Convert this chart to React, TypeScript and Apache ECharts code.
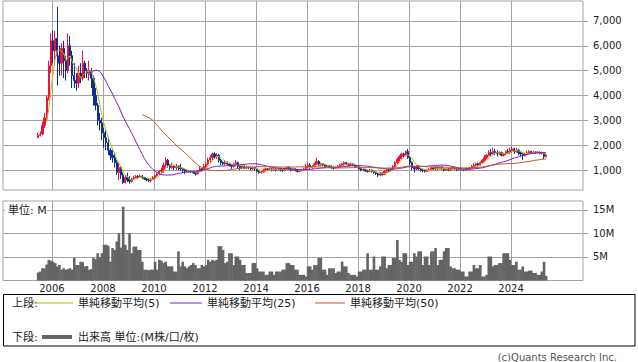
import React, { useEffect, useRef } from "react";
import * as echarts from "echarts";

// First candle month (June 2005), monthly candles
const START_YEAR = 2005;
const START_MONTH = 6;

// Monthly candles: [open, close, low, high]
const ohlc2005 = [[2300,2400,2300,2500],[2400,2450,2350,2550],[2450,2800,2400,2950],[2800,3100,2700,3300],[3100,3900,3000,4000],[3900,5200,3800,5400],[5200,6200,4900,6500]];
const ohlc2006 = [[6200,5800,5300,6600],[5800,6300,5200,6600],[6300,5600,4400,7560],[5600,5300,4800,6000],[5300,5900,4800,6100],[5900,5400,4700,6200],[5400,5000,4600,5600],[5000,6000,4900,6500],[6000,5600,5200,6400],[5600,4800,4300,5800],[4800,4600,4300,5300],[4600,4500,4200,4900]];
const ohlc2007 = [[4500,4900,4300,5200],[4900,4700,4500,5300],[4700,5300,4600,5800],[5300,5000,4700,5400],[5000,4900,4700,5100],[4900,5000,4600,5400],[5000,4700,4300,5100],[4700,4000,3600,4800],[4000,3600,3400,4300],[3600,3000,2800,3700],[3000,2900,2600,3300],[2900,2500,2200,3100]];
const ohlc2008 = [[2500,2300,1900,2700],[2300,2100,1800,2600],[2100,1800,1600,2300],[1800,1600,1400,1900],[1600,1500,1300,1800],[1500,1300,1100,1700],[1300,900,800,1400],[900,1100,600,1300],[1100,800,650,1150],[800,500,440,900],[500,700,460,800],[700,600,520,900]];
const ohlc2009 = [[600,550,450,750],[550,650,500,700],[650,700,600,780],[700,750,650,800],[750,720,650,800],[720,760,680,820],[760,700,650,800],[700,650,600,720],[650,600,550,680],[600,580,520,650],[580,620,500,680],[620,700,600,760]];
const ohlc2010 = [[700,780,650,820],[780,850,740,900],[850,950,820,1000],[950,1000,880,1100],[1000,1200,900,1300],[1200,1400,1100,1520],[1400,1200,1100,1450],[1200,1100,1000,1250],[1100,1150,1050,1300],[1150,1100,1000,1200],[1100,1150,1000,1250],[1150,1100,1000,1200]];
const ohlc2011 = [[1100,1050,980,1250],[1050,1000,880,1100],[1000,950,850,1050],[950,980,900,1020],[980,950,900,1000],[950,930,880,980],[930,900,850,950],[900,850,780,920],[850,950,820,1000],[950,1050,920,1150],[1050,1000,930,1100],[1000,1150,980,1250]];
const ohlc2012 = [[1150,1250,1100,1300],[1250,1400,1200,1500],[1400,1500,1300,1600],[1500,1650,1400,1700],[1650,1550,1450,1720],[1550,1600,1450,1680],[1600,1400,1300,1650],[1400,1300,1200,1450],[1300,1250,1200,1350],[1250,1300,1200,1400],[1300,1250,1180,1350],[1250,1200,1150,1300]];
const ohlc2013 = [[1200,1150,1050,1250],[1150,1250,1100,1300],[1250,1300,1150,1400],[1300,1150,1050,1350],[1150,1100,1000,1200],[1100,1150,1050,1200],[1150,1100,1050,1200],[1100,1120,1050,1180],[1120,1100,1040,1160],[1100,1050,1000,1150],[1050,1100,1000,1150],[1100,1050,980,1120]];
const ohlc2014 = [[1050,950,900,1080],[950,900,850,980],[900,920,860,960],[920,1000,900,1050],[1000,1050,960,1100],[1050,1020,980,1080],[1020,1050,1000,1100],[1050,1000,950,1080],[1000,1050,980,1120],[1050,1000,940,1080],[1000,1050,980,1100],[1050,1000,950,1100]];
const ohlc2015 = [[1000,980,930,1050],[980,1050,960,1100],[1050,1100,1000,1150],[1100,1050,1000,1150],[1050,1000,950,1100],[1000,1050,980,1100],[1050,1000,950,1080],[1000,950,900,1050],[950,980,920,1020],[980,1000,950,1050],[1000,1050,980,1100],[1050,1150,1030,1250]];
const ohlc2016 = [[1150,1200,1050,1300],[1200,1100,1050,1280],[1100,1150,1050,1200],[1150,1250,1100,1300],[1250,1350,1200,1500],[1350,1200,1150,1400],[1200,1250,1150,1300],[1250,1200,1150,1280],[1200,1150,1100,1250],[1150,1180,1120,1220],[1180,1150,1100,1220],[1150,1100,1050,1200]];
const ohlc2017 = [[1100,1080,1020,1150],[1080,1100,1050,1150],[1100,1150,1080,1200],[1150,1200,1100,1250],[1200,1250,1150,1300],[1250,1300,1200,1350],[1300,1250,1200,1330],[1250,1200,1150,1280],[1200,1250,1150,1300],[1250,1200,1150,1280],[1200,1150,1100,1250],[1150,1150,1100,1200]];
const ohlc2018 = [[1150,1050,1000,1180],[1050,1000,950,1080],[1000,1020,950,1080],[1020,980,930,1050],[980,950,900,1020],[950,1000,920,1050],[1000,950,900,1030],[950,900,850,980],[900,850,800,950],[850,800,720,880],[800,880,760,920],[880,830,780,900]];
const ohlc2019 = [[830,950,800,1000],[950,1000,900,1050],[1000,980,920,1050],[980,1050,950,1100],[1050,1150,1000,1200],[1150,1300,1100,1350],[1300,1450,1250,1500],[1450,1550,1350,1600],[1550,1650,1450,1700],[1650,1600,1500,1700],[1600,1750,1550,1800],[1750,1500,1450,1850]];
const ohlc2020 = [[1500,1300,1200,1550],[1300,1100,1000,1350],[1100,1050,900,1150],[1050,1150,1000,1200],[1150,1050,1000,1200],[1050,1000,950,1100],[1000,980,920,1050],[980,950,900,1020],[950,1000,920,1050],[1000,1020,950,1080],[1020,1080,980,1120],[1080,1050,1000,1120]];
const ohlc2021 = [[1050,1100,1000,1150],[1100,1050,1000,1150],[1050,1100,1020,1150],[1100,1050,1000,1150],[1050,1000,950,1100],[1000,1050,980,1100],[1050,1000,960,1080],[1000,1050,980,1100],[1050,1100,1020,1150],[1100,1050,1000,1120],[1050,1000,960,1080],[1000,1050,980,1100]];
const ohlc2022 = [[1050,1020,980,1080],[1020,1000,960,1060],[1000,1050,970,1080],[1050,1030,1000,1080],[1030,1080,1000,1120],[1080,1150,1050,1200],[1150,1200,1100,1280],[1200,1250,1150,1300],[1250,1200,1150,1300],[1200,1300,1180,1350],[1300,1400,1280,1450],[1400,1500,1350,1600]];
const ohlc2023 = [[1500,1600,1450,1650],[1600,1700,1550,1800],[1700,1650,1550,1850],[1650,1750,1600,1900],[1750,1700,1600,1850],[1700,1650,1550,1800],[1650,1700,1600,1750],[1700,1600,1550,1750],[1600,1650,1550,1700],[1650,1750,1600,1800],[1750,1700,1650,1850],[1700,1800,1650,1900]];
const ohlc2024 = [[1800,1850,1700,1950],[1850,1750,1650,1900],[1750,1800,1700,1900],[1800,1700,1600,1850],[1700,1650,1550,1750],[1650,1600,1400,1700],[1600,1650,1550,1700],[1650,1700,1600,1780],[1700,1750,1650,1800],[1750,1700,1650,1780],[1700,1720,1650,1760],[1720,1700,1650,1750]];
const ohlc2025 = [[1700,1720,1660,1760],[1720,1680,1640,1750],[1680,1700,1620,1740],[1700,1550,1450,1720],[1550,1600,1500,1650]];

// Monthly volume, in millions of shares
const vol2005 = [1.7, 1.9, 2.6, 2.6, 3.4, 4.4, 4.2];
const vol2006 = [4.0, 3.7, 3.0, 3.3, 2.3, 2.6, 2.3, 2.4, 2.6, 2.3, 4.8, 3.3];
const vol2007 = [3.3, 4.0, 3.9, 3.0, 3.1, 2.3, 2.4, 4.8, 4.5, 5.8, 5.0, 5.8];
const vol2008 = [7.6, 7.6, 7.4, 4.0, 6.9, 6.5, 8.3, 10.0, 7.0, 15.7, 7.6, 6.5];
const vol2009 = [10.0, 5.8, 7.2, 7.2, 6.5, 6.5, 4.0, 2.3, 2.3, 2.2, 2.3, 2.3];
const vol2010 = [4.0, 2.3, 4.4, 4.2, 3.7, 4.0, 3.0, 3.0, 3.0, 1.9, 1.9, 6.2];
const vol2011 = [3.0, 4.0, 3.0, 2.6, 3.0, 3.3, 3.7, 3.3, 2.6, 2.6, 3.3, 3.0];
const vol2012 = [3.3, 4.4, 4.0, 4.4, 4.2, 4.4, 7.3, 7.3, 6.5, 3.7, 4.0, 5.8];
const vol2013 = [5.8, 3.3, 5.1, 5.1, 4.4, 3.3, 3.3, 1.6, 1.6, 1.6, 3.7, 3.7];
const vol2014 = [2.6, 1.9, 1.9, 1.9, 1.2, 1.2, 1.9, 1.9, 1.2, 1.9, 1.9, 1.9];
const vol2015 = [2.3, 2.3, 3.7, 3.7, 3.3, 3.3, 2.3, 2.3, 1.2, 1.2, 1.2, 0.85];
const vol2016 = [3.0, 3.0, 2.3, 3.3, 3.3, 4.8, 4.8, 2.3, 2.3, 1.2, 2.6, 2.6];
const vol2017 = [2.6, 1.6, 1.9, 1.9, 4.0, 3.0, 3.0, 1.6, 1.2, 1.2, 1.2, 0.85];
const vol2018 = [1.9, 1.9, 2.3, 2.3, 5.8, 2.3, 2.3, 5.1, 2.3, 2.3, 3.0, 5.1];
const vol2019 = [5.1, 2.6, 3.3, 3.3, 4.8, 4.8, 8.6, 4.4, 4.0, 5.8, 5.8, 3.3];
const vol2020 = [4.0, 4.0, 5.8, 5.1, 6.2, 6.2, 3.3, 5.1, 5.1, 3.3, 6.2, 6.2];
const vol2021 = [6.9, 3.3, 4.4, 4.4, 6.2, 6.9, 6.9, 3.0, 2.6, 2.6, 2.3, 2.3];
const vol2022 = [1.9, 1.9, 0.85, 0.85, 1.9, 1.9, 3.3, 2.6, 2.6, 3.3, 0.85, 0.85];
const vol2023 = [1.2, 5.1, 5.1, 3.0, 3.3, 3.3, 3.7, 3.7, 5.8, 5.8, 5.8, 4.4];
const vol2024 = [3.3, 3.3, 4.0, 2.3, 2.3, 3.0, 1.9, 1.9, 2.1, 2.1, 1.6, 1.6];
const vol2025 = [1.2, 1.2, 1.9, 4.0, 1.0];

const yearTicks = [2006, 2008, 2010, 2012, 2014, 2016, 2018, 2020, 2022, 2024];
const priceTicks = [1000, 2000, 3000, 4000, 5000, 6000, 7000];
const volumeTicks = [5, 10, 15];
const maPeriods = [5, 25, 50];
const maColors = ["#bcbc00", "#7a1ccc", "#cc5028"];
const maLabels = ["単純移動平均(5)", "単純移動平均(25)", "単純移動平均(50)"];

const FONT = "'DejaVu Sans', 'Noto Sans CJK JP', sans-serif";
const GRID_COLOR = "#a3a3a3";

const ohlc = [
  ...ohlc2005, ...ohlc2006, ...ohlc2007, ...ohlc2008, ...ohlc2009, ...ohlc2010,
  ...ohlc2011, ...ohlc2012, ...ohlc2013, ...ohlc2014, ...ohlc2015, ...ohlc2016,
  ...ohlc2017, ...ohlc2018, ...ohlc2019, ...ohlc2020, ...ohlc2021, ...ohlc2022,
  ...ohlc2023, ...ohlc2024, ...ohlc2025,
];
const volume = [
  ...vol2005, ...vol2006, ...vol2007, ...vol2008, ...vol2009, ...vol2010,
  ...vol2011, ...vol2012, ...vol2013, ...vol2014, ...vol2015, ...vol2016,
  ...vol2017, ...vol2018, ...vol2019, ...vol2020, ...vol2021, ...vol2022,
  ...vol2023, ...vol2024, ...vol2025,
];

// time of month i (centre of month, in fractional years)
const monthTime = (i: number) => START_YEAR + (START_MONTH - 1 + i + 0.5) / 12;

function movingAverage(period: number) {
  const out: number[][] = [];
  for (let i = period - 1; i < ohlc.length; i++) {
    let s = 0;
    for (let j = i - period + 1; j <= i; j++) s += ohlc[j][1];
    out.push([monthTime(i), s / period]);
  }
  return out;
}

export default function App() {
  const ref = useRef<HTMLDivElement>(null);

  useEffect(() => {
    if (!ref.current) return;
    const chart = echarts.init(ref.current, null, { renderer: "svg" });

    const candleData = ohlc.map((d, i) => [monthTime(i), d[0], d[1], d[2], d[3]]);
    const volData = volume.map((v, i) => [monthTime(i), v]);

    const xCommon = {
      type: "value",
      min: 2004.08,
      max: 2026.82,
      axisLine: { show: false },
      axisTick: { show: false, customValues: yearTicks },
      splitLine: { show: true, lineStyle: { color: GRID_COLOR, width: 1 } },
    };

    const legendY1 = 303;
    const legendY2 = 337;
    const txt = (x: number, y: number, text: string, extra: any = {}) => ({
      type: "text",
      x,
      y,
      z: 100,
      style: {
        text,
        fill: "#222",
        font: `11px ${FONT}`,
        textVerticalAlign: "middle",
        ...extra,
      },
    });
    const seg = (x1: number, x2: number, y: number, color: string, w = 1) => ({
      type: "line",
      z: 100,
      shape: { x1, y1: y, x2, y2: y },
      style: { stroke: color, lineWidth: w },
    });

    chart.setOption({
      animation: false,
      backgroundColor: "#ffffff",
      grid: [
        { left: 3, top: 1, width: 580, height: 189, show: true, borderColor: GRID_COLOR, borderWidth: 1, backgroundColor: "transparent" },
        { left: 3, top: 201, width: 580, height: 79.5, show: true, borderColor: GRID_COLOR, borderWidth: 1, backgroundColor: "transparent" },
      ],
      xAxis: [
        { ...xCommon, gridIndex: 0, axisLabel: { show: false, customValues: yearTicks } },
        {
          ...xCommon,
          gridIndex: 1,
          axisLabel: {
            show: true,
            customValues: yearTicks,
            formatter: (v: number) => String(Math.round(v)),
            color: "#222",
            fontSize: 10,
            fontFamily: FONT,
            margin: 3,
          },
        },
      ],
      yAxis: [
        {
          type: "value",
          gridIndex: 0,
          position: "right",
          min: 200,
          max: 7800,
          axisLine: { show: false },
          axisTick: { show: true, length: 5, customValues: priceTicks, lineStyle: { color: GRID_COLOR } },
          splitLine: { show: true, lineStyle: { color: GRID_COLOR, width: 1 } },
          axisLabel: {
            customValues: priceTicks,
            formatter: (v: number) => v.toLocaleString("en-US"),
            color: "#222",
            fontSize: 10,
            fontFamily: FONT,
            margin: 10,
          },
        },
        {
          type: "value",
          gridIndex: 1,
          position: "right",
          min: 0,
          max: 16.9,
          axisLine: { show: false },
          axisTick: { show: true, length: 5, customValues: volumeTicks, lineStyle: { color: GRID_COLOR } },
          splitLine: { show: true, lineStyle: { color: GRID_COLOR, width: 1 } },
          axisLabel: {
            customValues: volumeTicks,
            formatter: (v: number) => `${v}M`,
            color: "#222",
            fontSize: 10,
            fontFamily: FONT,
            margin: 10,
          },
        },
      ],
      series: [
        {
          type: "candlestick",
          xAxisIndex: 0,
          yAxisIndex: 0,
          data: candleData,
          encode: { x: 0, y: [1, 2, 3, 4] },
          barWidth: 1.8,
          itemStyle: {
            color: "#ee1140",
            color0: "#0b2d94",
            borderColor: "#ee1140",
            borderColor0: "#0b2d94",
            borderWidth: 1,
          },
          z: 2,
        },
        ...maPeriods.map((p, k) => ({
          type: "line",
          xAxisIndex: 0,
          yAxisIndex: 0,
          data: movingAverage(p),
          showSymbol: false,
          symbol: "none",
          lineStyle: { color: maColors[k], width: 1 },
          z: 3,
        })),
        {
          type: "bar",
          xAxisIndex: 1,
          yAxisIndex: 1,
          data: volData,
          barWidth: 2.6,
          itemStyle: { color: "#646464" },
        },
      ],
      graphic: [
        { type: "rect", z: 99, shape: { x: 5, y: 203, width: 42, height: 15 }, style: { fill: "#ffffff" } },
        txt(8, 210.5, "単位: M"),
        {
          type: "rect",
          z: 99,
          shape: { x: 3.5, y: 294.5, width: 631.5, height: 51.5 },
          style: { fill: "#ffffff", stroke: "#000000", lineWidth: 1 },
        },
        txt(12, legendY1, "上段:"),
        seg(33, 73, legendY1, maColors[0]),
        txt(78, legendY1, maLabels[0]),
        seg(170, 202, legendY1, maColors[1]),
        txt(207, legendY1, maLabels[1]),
        seg(315, 345, legendY1, maColors[2]),
        txt(350, legendY1, maLabels[2]),
        txt(12, legendY2, "下段:"),
        seg(42, 72, legendY2, "#666666", 4),
        txt(78, legendY2, "出来高 単位:(M株/口/枚)"),
        txt(617, 357, "(c)Quants Research Inc.", { fill: "#555", textAlign: "right", font: `10px ${FONT}` }),
      ],
    });

    return () => chart.dispose();
  }, []);

  return (
    <div
      ref={ref}
      style={{ position: "absolute", left: 0, top: 0, width: 638, height: 362 }}
    />
  );
}
